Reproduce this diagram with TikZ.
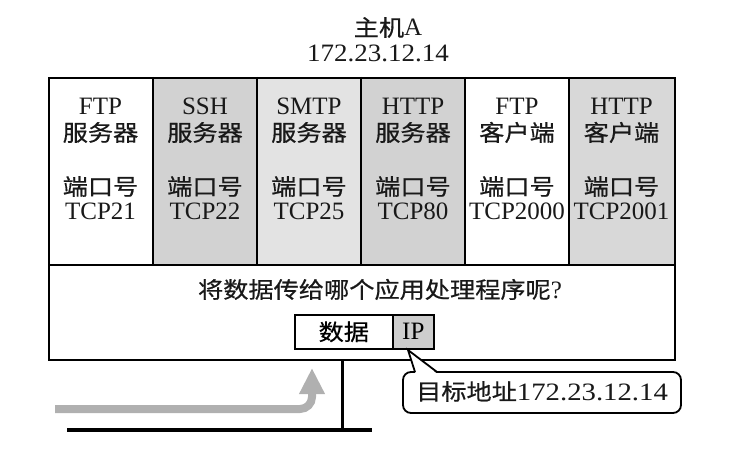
\documentclass[tikz,border=0pt]{standalone}
\usepackage{fontspec}
\usepackage{graphicx}
\setmainfont{Liberation Serif}
\newfontfamily\cjk[Scale=0.9,FakeStretch=1.12,FakeBold=0.6]{Noto Sans CJK SC}
\newcommand\zh[1]{{\cjk #1}}
\usetikzlibrary{arrows.meta}
\definecolor{cellA}{HTML}{D2D2D2}
\definecolor{cellB}{HTML}{E3E3E3}
\definecolor{cellC}{HTML}{D8D8D8}
\definecolor{ipgray}{HTML}{CDCDCD}
\definecolor{arrowgray}{HTML}{B0B0B0}
\begin{document}
\begin{tikzpicture}[x=1pt,y=-1pt,
  txt/.style={font=\fontsize{25}{30}\selectfont, inner sep=0pt, anchor=base, text=black!90},
  frame/.style={draw=black, line width=2pt},
  pkt/.style={draw=black, line width=1.6pt, font=\fontsize{25}{30}\selectfont, inner sep=0pt, anchor=north west, minimum height=34pt},
  garrow/.style={draw=arrowgray, line width=8pt, rounded corners=12pt, -{Triangle[width=24pt,length=26pt]}},
  callout/.style={draw=black, line width=1.8pt, fill=white}]
\useasboundingbox (0,0) rectangle (744,468);

% title
\node[txt] (title) at (388,36) {\zh{主机}A};
\node[txt] (hostip) at (378,62) {\scalebox{1.08}[1]{172.23.12.14}};

% cells
\foreach \xa/\xb/\col in {48/153/white, 153/257/cellA, 257/361/cellB, 361/465/cellA, 465/569/white, 569/674/cellC}
  {\fill[\col] (\xa,77) rectangle (\xb,265);}

% host box
\node[frame, minimum width=626pt, minimum height=282pt, anchor=north west, inner sep=0pt] (host) at (48,77) {};
\draw[frame] (48,265) -- (674,265);
\foreach \xc in {153,257,361,465,569}
  {\draw[frame] (\xc,77) -- (\xc,265);}

% cell texts
\foreach \cx/\a/\b/\c/\d [count=\i] in {
  100.5/FTP/服务器/端口号/TCP21,
  205/SSH/服务器/端口号/TCP22,
  309/SMTP/服务器/端口号/TCP25,
  413/HTTP/服务器/端口号/TCP80,
  517/FTP/客户端/端口号/TCP2000,
  621.5/HTTP/客户端/端口号/TCP2001}
{
  \node[txt] (h\i) at (\cx,115) {\a};
  \node[txt] (s\i) at (\cx,141) {\zh{\b}};
  \node[txt] (p\i) at (\cx,195) {\zh{\c}};
  \node[txt] (t\i) at (\cx,219) {\d};
}

% question
\node[txt] (q) at (380,298) {\zh{将数据传给哪个应用处理程序呢}?};

% packet
\node[pkt, fill=white, minimum width=98pt] (data) at (294,314) {\zh{数据}};
\node[pkt, fill=ipgray, minimum width=41pt] (ip) at (392,314) {IP};

% stand and ground
\coordinate (st) at (342,359);
\coordinate (sb) at (342,430);
\coordinate (gl) at (67,430);
\coordinate (gr) at (372,430);
\draw[line width=3pt] (st) -- (sb);
\draw[line width=4pt] (gl) -- (gr);

% gray arrow
\coordinate (as) at (55,409);
\coordinate (ae) at (312,368);
\draw[garrow] (as) -| (ae);

% callout
\coordinate (tip) at (408,350);
\draw[callout, rounded corners=8pt] (403,372) rectangle (681,413);
\fill[white] (415.5,373.2) -- (tip) -- (436.5,373.2) -- cycle;
\draw[black, line width=1.8pt, line join=miter] (415,372) -- (tip) -- (437,372);
\node[txt] (tgt) at (542,400) {\zh{目标地址}\scalebox{1.15}[1]{172.23.12.14}};
\end{tikzpicture}
\end{document}
